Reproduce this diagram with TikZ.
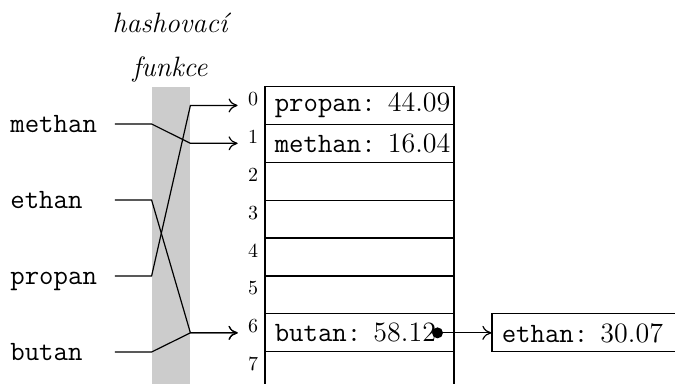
\documentclass[tikz,border=0pt]{standalone}
\usepackage{fontspec}
\usetikzlibrary{arrows.meta}
\begin{document}
\begin{tikzpicture}[x=0.5pt,y=-0.5pt,
  every node/.style={font=\fontsize{14}{17}\selectfont},
  band/.style={fill=black!20, draw=none, minimum width=19pt, minimum height=151.5pt, inner sep=0pt},
  cell/.style={draw, line width=0.6pt, minimum width=94.5pt, minimum height=18.95pt, inner sep=0pt},
  celltext/.style={anchor=west, inner sep=0pt},
  idx/.style={font=\fontsize{10}{12}\selectfont, inner xsep=5pt, inner ysep=0pt},
  key/.style={font=\fontsize{14}{17}\selectfont\ttfamily, text width=48pt, align=left,
              inner xsep=4pt, inner ysep=0pt, text height=11.2pt, text depth=2.24pt, anchor=west},
  heading/.style={font=\fontsize{14}{17}\selectfont\itshape, anchor=base, inner sep=0pt},
  link/.style={line width=0.6pt, -{Computer Modern Rightarrow[length=4.5pt,width=7pt]}},
  dotnode/.style={circle, fill=black, inner sep=0pt, minimum size=5.5pt}
]
\useasboundingbox (0,0) rectangle (675,384);
\clip (0,0) rectangle (675,384);

\node[band] (band) at (171,238.5) {};

\node[heading] (h1) at (170,33) {hashovací};
\node[heading] (h2) at (170,77) {funkce};

\node[key] (lm) at (2,124) {methan};
\node[key] (le) at (2,200) {ethan};
\node[key] (lp) at (2,276) {propan};
\node[key] (lb) at (2,352) {butan};

\foreach \i in {0,...,7} {
  \node[cell] (r\i) at (359.5,105.45+37.9*\i) {};
  \node[idx] (n\i) at (253,99+37.9*\i) {\i};
}

\node[celltext] (t0) at ([xshift=5pt]r0.west) {\texttt{propan:} 44.09};
\node[celltext] (t1) at ([xshift=5pt]r1.west) {\texttt{methan:} 16.04};
\node[celltext] (t6) at ([xshift=5pt]r6.west) {\texttt{butan:} 58.12};

\node[cell] (e) at (586.5,332.85) {};
\node[celltext] (te) at ([xshift=5pt]e.west) {\texttt{ethan:} 30.07};

\draw[link] (lm.east) -- (lm.east -| band.west) -- (band.east |- r1.west) -- (r1.west -| n1.west);
\draw[link] (le.east) -- (le.east -| band.west) -- (band.east |- r6.west) -- (r6.west -| n6.west);
\draw[link] (lp.east) -- (lp.east -| band.west) -- (band.east |- r0.west) -- (r0.west -| n0.west);
\draw[link] (lb.east) -- (lb.east -| band.west) -- (band.east |- r6.west) -- (r6.west -| n6.west);

\coordinate (dc) at (437.5,332.85);
\draw[link] (dc) -- (e.west);
\node[dotnode] (dot) at (dc) {};
\end{tikzpicture}
\end{document}
